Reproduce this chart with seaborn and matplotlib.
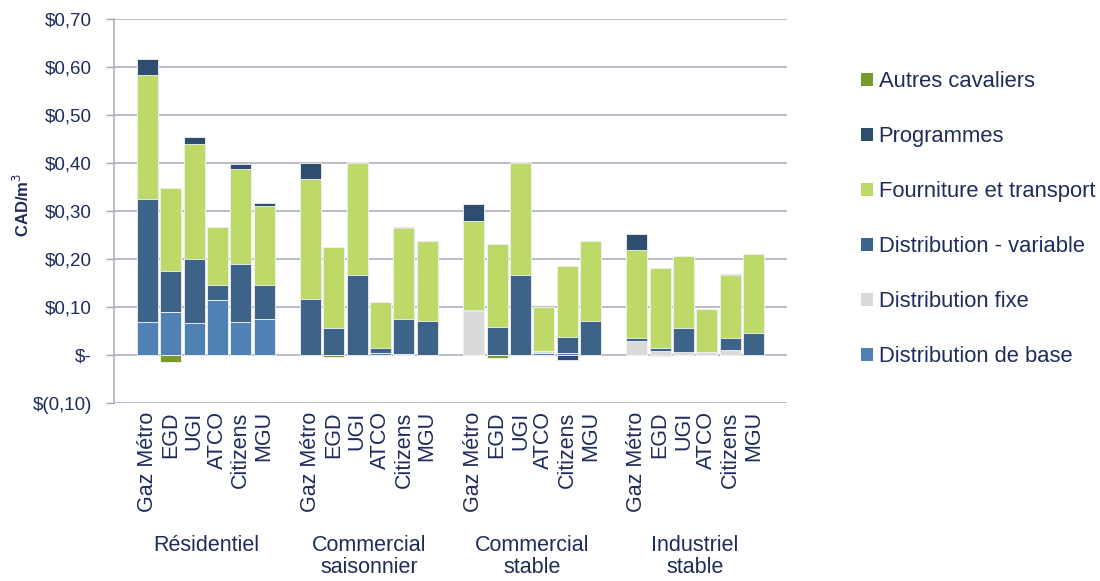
import numpy as np
import pandas as pd
import matplotlib
matplotlib.use("Agg")
import matplotlib.pyplot as plt
from matplotlib.patches import Patch
from matplotlib.transforms import blended_transform_factory
import seaborn as sns

# ---------------- data ----------------
companies = ["Gaz Métro", "EGD", "UGI", "ATCO", "Citizens", "MGU"]
groups = ["Résidentiel", "Commercial\nsaisonnier", "Commercial\nstable", "Industriel\nstable"]

dist_base = [0.068, 0.089, 0.067, 0.115, 0.068, 0.074,
             0.000, 0.000, 0.000, 0.004, 0.002, 0.000,
             0.000, 0.000, 0.000, 0.004, 0.005, 0.000,
             0.000, 0.000, 0.000, 0.000, 0.000, 0.000]
dist_fixe = [0.000, 0.000, 0.000, 0.000, 0.000, 0.000,
             0.000, 0.000, 0.000, 0.000, 0.000, 0.000,
             0.092, 0.000, 0.000, 0.005, 0.000, 0.000,
             0.030, 0.008, 0.007, 0.006, 0.011, 0.000]
dist_variable = [0.258, 0.085, 0.133, 0.030, 0.122, 0.071,
                 0.116, 0.056, 0.166, 0.010, 0.072, 0.071,
                 0.002, 0.058, 0.166, 0.000, 0.032, 0.071,
                 0.006, 0.006, 0.049, 0.000, 0.024, 0.045]
fourniture = [0.257, 0.173, 0.240, 0.121, 0.198, 0.165,
              0.251, 0.170, 0.234, 0.097, 0.190, 0.166,
              0.186, 0.174, 0.235, 0.091, 0.149, 0.167,
              0.182, 0.167, 0.150, 0.090, 0.132, 0.166]
programmes = [0.033, 0.000, 0.014, 0.000, 0.010, 0.007,
              0.033, 0.000, 0.003, 0.000, 0.002, 0.000,
              0.034, 0.000, 0.002, 0.000, -0.011, 0.000,
              0.034, 0.000, 0.001, 0.000, 0.001, 0.000]
autres = [0.000, -0.014, 0.000, 0.000, 0.000, 0.000,
          0.000, -0.005, 0.000, 0.000, 0.000, 0.000,
          0.000, -0.006, 0.000, 0.000, 0.000, 0.000,
          0.000, -0.003, 0.000, 0.000, 0.000, 0.000]

y_ticks = [-0.10, 0.0, 0.10, 0.20, 0.30, 0.40, 0.50, 0.60, 0.70]
y_ticklabels = ["$(0,10)", "$-", "$0,10", "$0,20", "$0,30", "$0,40", "$0,50", "$0,60", "$0,70"]

series_names = ["Distribution de base", "Distribution fixe", "Distribution - variable",
                "Fourniture et transport", "Programmes", "Autres cavaliers"]
series_vals = [dist_base, dist_fixe, dist_variable, fourniture, programmes, autres]
series_colors = ["#4F81B5", "#DADADA", "#3D6389", "#BDD968", "#2E4E70", "#789A2A"]

# ---------------- style ----------------
sns.set_style("white")
plt.rcParams["font.family"] = ["Liberation Sans", "DejaVu Sans"]
txt_color = "#1F2B5C"
grid_color = "#A8A8BA"

fig = plt.figure(figsize=(11, 5.81), dpi=100)
ax = fig.add_axes([114 / 1100, 178 / 581, 673 / 1100, 384 / 581])

# x positions: 6 bars per group, one empty slot between groups
positions = []
for g in range(len(groups)):
    for c in range(len(companies)):
        positions.append(g * 7 + c)
positions = np.array(positions, dtype=float)

vals = np.array(series_vals)
pos_vals = np.clip(vals, 0, None)
neg_vals = np.clip(vals, None, 0)
pos_cum = np.cumsum(pos_vals, axis=0)
neg_cum = np.cumsum(neg_vals, axis=0)

edge = "#F4F4F4"
# positive stacks: paint from top layer down (lower layers cover upper ones)
for i in range(len(series_names) - 1, -1, -1):
    df = pd.DataFrame({"pos": positions, "val": pos_cum[i]})
    sns.barplot(data=df, x="pos", y="val", native_scale=True, width=0.9,
                color=series_colors[i], saturation=1, errorbar=None,
                edgecolor=edge, linewidth=0.6, ax=ax)
# negative stacks
for i in range(len(series_names) - 1, -1, -1):
    if not (neg_vals[i] < 0).any():
        continue
    df = pd.DataFrame({"pos": positions, "val": neg_cum[i]})
    sns.barplot(data=df, x="pos", y="val", native_scale=True, width=0.9,
                color=series_colors[i], saturation=1, errorbar=None,
                edgecolor=edge, linewidth=0.6, ax=ax)

# hide empty (zero-height) bars so they leave no edge line
for p in ax.patches:
    if abs(p.get_height()) < 1e-9:
        p.set_visible(False)

# ---------------- axes ----------------
ax.set_xlim(-1.44, 26 + 1.44)
ax.set_ylim(-0.10, 0.70)
ax.set_yticks(y_ticks)
ax.set_yticklabels(y_ticklabels, fontsize=13.5, color=txt_color)
ax.tick_params(axis="y", left=True, length=6, width=1, color=grid_color, pad=10)
ax.set_xticks(positions)
ax.set_xticklabels(companies * len(groups), rotation=90, fontsize=15.5, color=txt_color,
                   va="top", ha="center")
ax.tick_params(axis="x", length=0, pad=6)
ax.set_xlabel("")
ax.set_ylabel("")
ax.yaxis.grid(True, color=grid_color, linewidth=1.1)
ax.xaxis.grid(False)
ax.set_axisbelow(True)
for s in ["top", "right", "bottom"]:
    ax.spines[s].set_visible(False)
ax.spines["left"].set_color(grid_color)
ax.spines["left"].set_linewidth(1.1)

# group labels
trans = blended_transform_factory(ax.transData, ax.transAxes)
for g, name in enumerate(groups):
    center = g * 7 + 2.5
    ax.text(center, -0.345, name, transform=trans, ha="center", va="top",
            fontsize=15.5, color=txt_color, linespacing=1.05)

# y label
fig.text(22 / 1100, 1 - 205 / 581, "CAD/m$^{3}$", rotation=90, ha="center", va="center",
         fontsize=12, fontweight="bold", color=txt_color)

# legend (reverse order)
handles = [Patch(facecolor=series_colors[i], edgecolor="none", label=series_names[i])
           for i in range(len(series_names) - 1, -1, -1)]
leg = fig.legend(handles=handles, loc="upper left", bbox_to_anchor=(861 / 1100, 1 - 71 / 581),
                 frameon=False, fontsize=15.8, handlelength=0.55, handleheight=0.55,
                 handletextpad=0.25, labelspacing=1.55, borderpad=0, borderaxespad=0)
for t in leg.get_texts():
    t.set_color(txt_color)

fig.savefig("out.png", dpi=100)
